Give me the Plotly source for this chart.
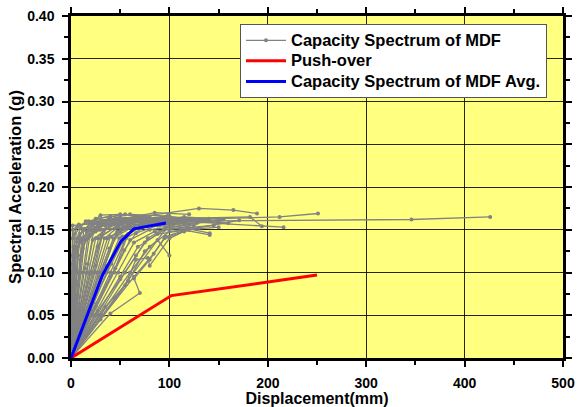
import plotly.graph_objects as go

# ---- data ----
mdf_curves = [
    [(0,0),(0.5,0.05),(1,0.1),(2,0.15),(8,0.156),(25,0.158),(50,0.161)],
    [(0,0),(0.8,0.04),(1.6,0.085),(2.5,0.13),(10,0.152),(35,0.155),(60,0.158)],
    [(0,0),(1,0.035),(2,0.075),(3,0.127),(12,0.15),(30,0.16),(70,0.162)],
    [(0,0),(1.5,0.05),(3,0.105),(4,0.145),(15,0.16),(45,0.163),(80,0.158)],
    [(0,0),(2,0.05),(4,0.1),(6,0.14),(20,0.158),(50,0.165),(85,0.16)],
    [(0,0),(2.5,0.045),(5,0.09),(8,0.135),(22,0.155),(40,0.16),(75,0.165)],
    [(0,0),(3,0.05),(6,0.1),(9,0.145),(25,0.163),(55,0.168),(95,0.162)],
    [(0,0),(4,0.05),(8,0.1),(11,0.14),(28,0.155),(60,0.158),(105,0.16)],
    [(0,0),(5,0.05),(10,0.1),(14,0.138),(30,0.16),(65,0.165),(120,0.162)],
    [(0,0),(6,0.05),(12,0.1),(17,0.14),(35,0.157),(70,0.16),(115,0.157)],
    [(0,0),(7,0.055),(14,0.105),(19,0.142),(38,0.162),(75,0.166),(130,0.175),(165,0.173),(189,0.169)],
    [(0,0),(8,0.05),(16,0.1),(22,0.138),(40,0.155),(80,0.16),(140,0.162)],
    [(0,0),(9,0.05),(18,0.1),(25,0.14),(45,0.16),(85,0.162),(150,0.16)],
    [(0,0),(10,0.05),(20,0.1),(28,0.14),(48,0.155),(90,0.158),(141,0.146)],
    [(0,0),(11,0.05),(22,0.1),(31,0.143),(52,0.158),(100,0.163),(182,0.165),(194,0.154)],
    [(0,0),(12,0.05),(24,0.1),(34,0.14),(55,0.16),(95,0.165),(140,0.163)],
    [(0,0),(13,0.05),(26,0.1),(37,0.14),(58,0.152),(90,0.155),(141,0.144)],
    [(0,0),(14,0.05),(28,0.1),(40,0.142),(62,0.158),(100,0.16),(160,0.158)],
    [(0,0),(15,0.05),(30,0.1),(43,0.14),(65,0.155),(110,0.162),(212,0.165),(251,0.169)],
    [(0,0),(16,0.05),(32,0.1),(46,0.145),(68,0.16),(105,0.163)],
    [(0,0),(17,0.05),(34,0.1),(49,0.14),(70,0.152),(95,0.157)],
    [(0,0),(18,0.05),(36,0.1),(52,0.142),(75,0.158),(110,0.16),(216,0.153)],
    [(0,0),(20,0.05),(40,0.1),(56,0.14),(78,0.155),(100,0.158)],
    [(0,0),(22,0.05),(44,0.1),(60,0.138),(80,0.15),(120,0.156)],
    [(0,0),(24,0.05),(48,0.1),(64,0.135),(85,0.148),(125,0.155)],
    [(0,0),(26,0.05),(50,0.095),(68,0.13),(88,0.145),(130,0.152)],
    [(0,0),(28,0.05),(55,0.1),(75,0.135),(95,0.15),(145,0.155)],
    [(0,0),(30,0.05),(60,0.1),(80,0.13),(100,0.148),(150,0.153)],
    [(0,0),(30,0.045),(58,0.09),(75,0.125),(88,0.138),(100,0.12)],
    [(0,0),(40,0.052),(70,0.076),(64,0.093),(80,0.115),(95,0.14),(120,0.15)],
    [(0,0),(45,0.07),(100,0.157),(130,0.16)],
    [(0,0),(0.5,0.06),(1,0.12),(1.5,0.155),(20,0.157),(100,0.16),(346,0.162),(426,0.165)],
    [(0,0),(3,0.06),(5,0.1),(7,0.13),(18,0.15),(45,0.152),(78,0.156)],
    [(0,0),(9,0.06),(17,0.11),(23,0.148),(40,0.165),(60,0.168),(100,0.166)],
    [(0,0),(13,0.055),(25,0.108),(33,0.15),(55,0.163),(85,0.17),(120,0.168)],
    [(0,0),(19,0.06),(35,0.108),(47,0.148),(65,0.162),(98,0.166),(135,0.16)],
    [(0,0),(25,0.06),(45,0.105),(58,0.145),(78,0.16),(115,0.165),(155,0.162)],
    [(0,0),(2,0.06),(3.5,0.1),(5,0.13),(25,0.148),(60,0.155)],
    [(0,0),(35,0.06),(55,0.085),(66,0.115),(78,0.117),(80,0.108),(100,0.14),(115,0.148)],
    [(0,0),(6,0.07),(10,0.115),(13,0.15),(30,0.167),(50,0.168),(80,0.165)],
    [(0,0),(1,0.03),(2.5,0.08),(4,0.118),(10,0.14),(30,0.15),(55,0.152)],
    [(0,0),(3.5,0.04),(7,0.085),(10,0.12),(16,0.148),(36,0.16),(62,0.163)],
    [(0,0),(10,0.055),(19,0.098),(27,0.13),(36,0.152),(58,0.161),(92,0.164)],
    [(0,0),(15,0.055),(28,0.095),(39,0.128),(50,0.148),(72,0.158),(108,0.16)],
    [(0,0),(21,0.055),(40,0.095),(54,0.126),(66,0.146),(88,0.155),(128,0.158)],
    [(0,0),(27,0.055),(50,0.092),(66,0.12),(78,0.14),(96,0.152),(153,0.162)],
    [(0,0),(33,0.05),(64,0.095),(84,0.122),(96,0.142),(118,0.15),(171,0.161)],
    [(0,0),(0.7,0.07),(1.2,0.11),(1.8,0.14),(6,0.153),(18,0.16),(40,0.166)],
    [(0,0),(5,0.06),(9,0.1),(12,0.128),(20,0.15),(42,0.158),(68,0.16)],
    [(0,0),(23,0.065),(41,0.11),(52,0.135),(62,0.15),(85,0.16),(110,0.158)],
]

pushover_x = [0, 102, 250]
pushover_y = [0, 0.073, 0.097]

avg_x = [0, 32, 50.5, 64, 96.5]
avg_y = [0, 0.097, 0.136, 0.151, 0.158]

x_ticks = [0, 100, 200, 300, 400, 500]
y_ticks = [0.00, 0.05, 0.10, 0.15, 0.20, 0.25, 0.30, 0.35, 0.40]

FONT = "Arial, 'Liberation Sans', sans-serif"


def leg(txt):
    return f'<span style="font-size:16.5px"><b>{txt}</b></span>'


fig = go.Figure()
for i, c in enumerate(mdf_curves):
    fig.add_trace(go.Scatter(
        x=[p[0] for p in c], y=[p[1] for p in c],
        mode="lines+markers",
        line=dict(color="#828282", width=1.3),
        marker=dict(color="#828282", size=4),
        name=leg("Capacity Spectrum of MDF"),
        legendgroup="mdf", showlegend=(i == 0),
    ))

fig.add_trace(go.Scatter(x=pushover_x, y=pushover_y, mode="lines",
                         line=dict(color="#ff0000", width=3), name=leg("Push-over")))
fig.add_trace(go.Scatter(x=avg_x, y=avg_y, mode="lines",
                         line=dict(color="#0000ff", width=3),
                         name=leg("Capacity Spectrum of MDF Avg.")))

axis_common = dict(
    showline=True, linecolor="black", linewidth=2.5, mirror="ticks",
    ticks="outside", ticklen=6, tickwidth=2, tickcolor="black",
    showgrid=True, gridcolor="rgba(0,0,0,0.85)", gridwidth=1,
    zeroline=False, automargin=False,
    tickfont=dict(family=FONT, size=14, color="black", weight="bold"),
)

fig.update_layout(
    width=577, height=407,
    margin=dict(l=71, r=14, t=16, b=49),
    paper_bgcolor="white", plot_bgcolor="#ffff80",
    font=dict(family=FONT, color="black"),
    xaxis=dict(range=[0, 500], tickvals=x_ticks, ticktext=[f"<b>{v}</b>" for v in x_ticks],
               ticklabelstandoff=4,
               minor=dict(dtick=50, ticks="outside", ticklen=4, tickwidth=2, tickcolor="black", showgrid=False),
               title=dict(text="<b>Displacement(mm)</b>", font=dict(family=FONT, size=16), standoff=4),
               **axis_common),
    yaxis=dict(range=[0, 0.40], tickvals=y_ticks, ticktext=[f"<b>{v:.2f}</b>" for v in y_ticks],
               ticklabelstandoff=5,
               minor=dict(dtick=0.025, ticks="outside", ticklen=4, tickwidth=2, tickcolor="black", showgrid=False),
               title=dict(text="<b>Spectral Acceleration (g)</b>", font=dict(family=FONT, size=16.5), standoff=2),
               **axis_common),
    legend=dict(x=0.3435, y=0.9766, xanchor="left", yanchor="top",
                bgcolor="white", bordercolor="#555", borderwidth=1,
                font=dict(family=FONT, size=13.5, color="black"),
                tracegroupgap=0, itemwidth=40),
    showlegend=True,
)

fig.write_html("out.html")
